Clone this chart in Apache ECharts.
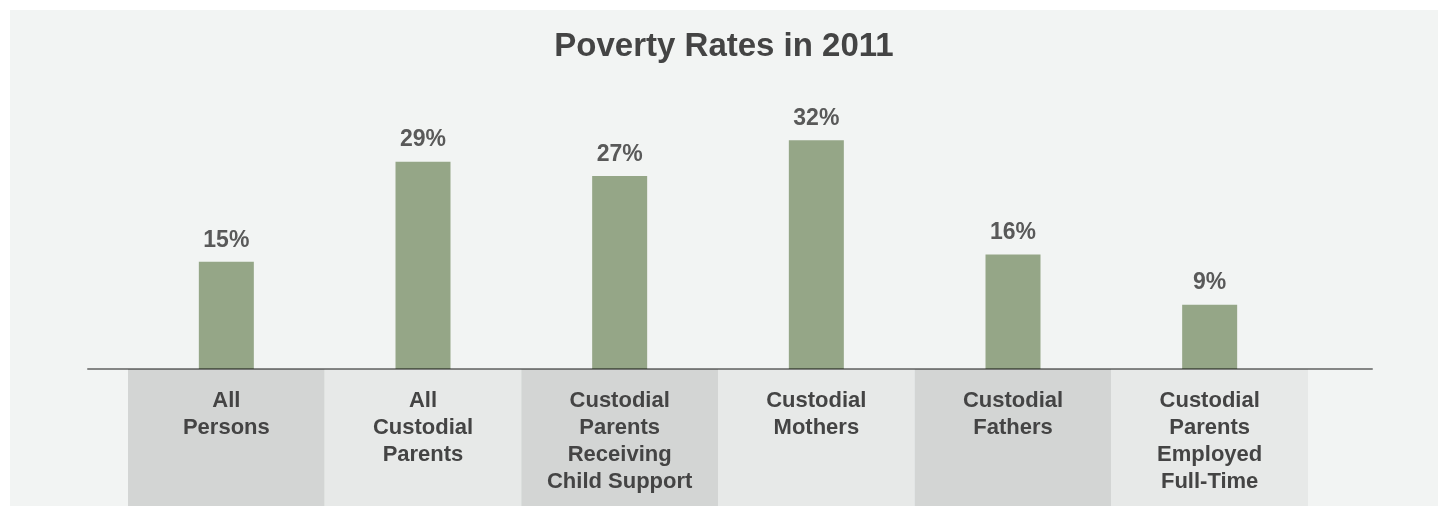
<!DOCTYPE html>
<html>
<head>
<meta charset="utf-8">
<script src="https://cdn.jsdelivr.net/npm/echarts@6/dist/echarts.min.js"></script>
<style>
html,body{margin:0;padding:0;background:#ffffff;width:1438px;height:506px;overflow:hidden;}
#chart{position:absolute;left:10px;top:10px;width:1428px;height:496px;background:#f2f4f3;}
</style>
</head>
<body>
<div id="chart"></div>
<script>
const title = 'Poverty Rates in 2011';
const categories = [
  'All\nPersons',
  'All\nCustodial\nParents',
  'Custodial\nParents\nReceiving\nChild Support',
  'Custodial\nMothers',
  'Custodial\nFathers',
  'Custodial\nParents\nEmployed\nFull-Time'
];
const povertyRates = [15, 29, 27, 32, 16, 9];

const FONT = '"Liberation Sans", Arial, Helvetica, sans-serif';
const chart = echarts.init(document.getElementById('chart'), null, {renderer: 'canvas'});
chart.setOption({
  animation: false,
  backgroundColor: 'transparent',
  title: {
    text: title,
    left: 'center',
    top: 15,
    padding: [5, 0, 5, 8],
    textStyle: {fontFamily: FONT, fontSize: 33, fontWeight: 'bold', color: '#444444'}
  },
  grid: [
    {left: 118, width: 1180, top: 73, bottom: 137, containLabel: false},
    {left: 118, width: 1180, top: 359, bottom: 0, containLabel: false},
    {left: 78, width: 1284, top: 73, bottom: 137, containLabel: false}
  ],
  xAxis: [
    {
      gridIndex: 0, type: 'category', data: categories,
      axisLine: {show: false}, axisTick: {show: false}, axisLabel: {show: false},
      splitLine: {show: false}
    },
    {
      gridIndex: 1, type: 'category', data: categories, position: 'top',
      axisLine: {show: false}, axisTick: {show: false},
      splitArea: {show: true, areaStyle: {color: ['#d3d5d4', '#e7e9e8']}},
      axisLabel: {
        inside: true, margin: 18, interval: 0,
        fontFamily: FONT, fontSize: 22, fontWeight: 'bold', color: '#444444',
        lineHeight: 27, align: 'center'
      }
    },
    {
      gridIndex: 2, type: 'category', data: categories,
      axisLine: {show: true, lineStyle: {color: 'rgba(0,0,0,0.45)', width: 2}},
      axisTick: {show: false}, axisLabel: {show: false}, z: 5
    }
  ],
  yAxis: [
    {gridIndex: 0, type: 'value', min: 0, max: 40, show: false},
    {gridIndex: 1, type: 'value', show: false},
    {gridIndex: 2, type: 'value', min: 0, max: 40, show: false}
  ],
  series: [
    {
      type: 'bar', xAxisIndex: 0, yAxisIndex: 0,
      data: povertyRates, barWidth: 55,
      itemStyle: {color: '#95a687'},
      label: {
        show: true, position: 'top', distance: 10,
        formatter: p => p.value + '%',
        fontFamily: FONT, fontSize: 23, fontWeight: 'bold', color: '#595959'
      }
    }
  ]
});
</script>
</body>
</html>
